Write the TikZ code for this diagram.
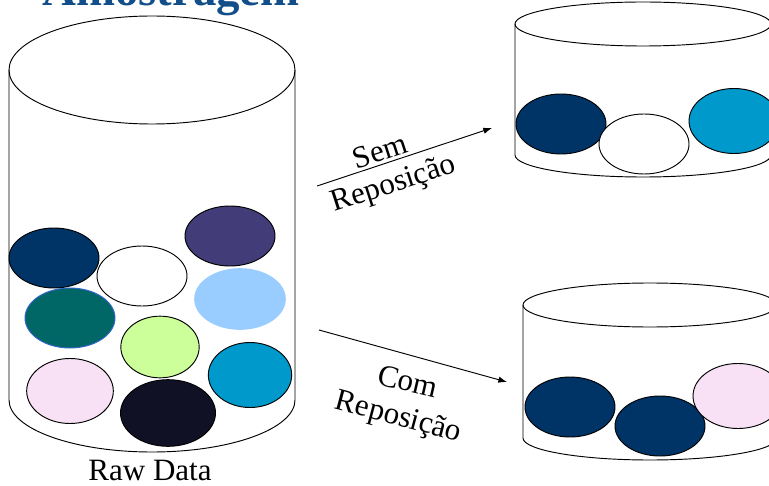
\documentclass[tikz,border=0pt]{standalone}
\usepackage{fontspec}
\setmainfont{Liberation Serif}
\usetikzlibrary{arrows.meta,shapes.geometric}
\definecolor{titleblue}{RGB}{18,78,138}
\definecolor{navy}{RGB}{0,51,102}
\definecolor{plum}{RGB}{66,60,120}
\definecolor{teal}{RGB}{0,102,102}
\definecolor{tealrim}{RGB}{51,102,204}
\definecolor{sky}{RGB}{153,204,255}
\definecolor{lime}{RGB}{204,255,153}
\definecolor{cyanball}{RGB}{0,153,204}
\definecolor{blush}{RGB}{248,225,244}
\definecolor{ink}{RGB}{17,17,38}

\begin{document}
\begin{tikzpicture}[
          x=0.03cm,y=-0.03cm,
          rim/.style={draw=black,line width=0.8pt},
          ball/.style={ellipse,draw=black,line width=0.8pt,fill=#1,inner sep=0pt,
                       minimum width=2.7cm,minimum height=1.8cm},
          lbl/.style={font=\fontsize{26.5}{30}\selectfont,inner sep=0pt},
          ar/.style={-{Latex[length=2.6mm,width=1.9mm]},draw=black,line width=0.8pt}
        ]
        \useasboundingbox (0,0) rectangle (769,486);
        \clip (0,0) rectangle (769,486);
        \node[anchor=base,text=titleblue,font=\fontsize{40}{44}\selectfont\bfseries,inner sep=0pt]
          (title) at (171,6) {Amostragem};
        % raw data container
        \draw[rim] (152,70) ellipse [x radius=143,y radius=54];
        \draw[rim] (9,70) -- (9,400) arc[start angle=180,end angle=0,x radius=143,y radius=52] -- (295,70);
        % sample without replacement
        \draw[rim] (643,24) ellipse [x radius=128,y radius=22];
        \draw[rim] (515,24) -- (515,155) arc[start angle=180,end angle=0,x radius=128,y radius=22] -- (771,24);
        % sample with replacement
        \draw[rim] (650,305) ellipse [x radius=127,y radius=22];
        \draw[rim] (523,305) -- (523,438) arc[start angle=180,end angle=0,x radius=127,y radius=22] -- (777,305);
        % balls
        \foreach \n/\c/\x/\y/\w/\h in {r1/navy/54/258/2.7/1.8, r2/white/142/276/2.7/1.8,
            r3/plum/230/236/2.7/1.8, r6/lime/160/347/2.35/1.85,
            r7/cyanball/250/375/2.5/1.95, r8/blush/70/391/2.6/1.95, r9/ink/168/413/2.85/2.0,
            s1/navy/561/124/2.7/1.8, s2/white/644/144/2.7/1.8, s3/cyanball/734/121/2.7/1.95,
            c1/navy/570/407/2.7/1.8, c2/navy/660/426/2.7/1.8, c3/blush/738/396/2.7/1.95}
          \node[ball=\c,minimum width=\w cm,minimum height=\h cm] (\n) at (\x,\y) {};
        \node[ball=teal,draw=tealrim] (r4) at (70,318) {};
        \node[ball=sky,draw=none,minimum width=2.75cm,minimum height=1.85cm] (r5) at (240,299) {};
        \node[lbl] (raw) at (150,470) {Raw Data};
        % arrows
        \coordinate (semA) at (317,186);
        \coordinate (semB) at (492,128);
        \coordinate (comA) at (319,330);
        \coordinate (comB) at (507,382);
        \draw[ar] (semA) -- (semB);
        \draw[ar] (comA) -- (comB);
        \node[lbl,rotate=18] (sem) at (380,151) {Sem};
        \node[lbl,rotate=18] (semrep) at (394,185) {Reposição};
        \node[lbl,rotate=-13] (com) at (408,381) {Com};
        \node[lbl,rotate=-15] (comrep) at (398,418) {Reposição};
      \end{tikzpicture}
\end{document}
